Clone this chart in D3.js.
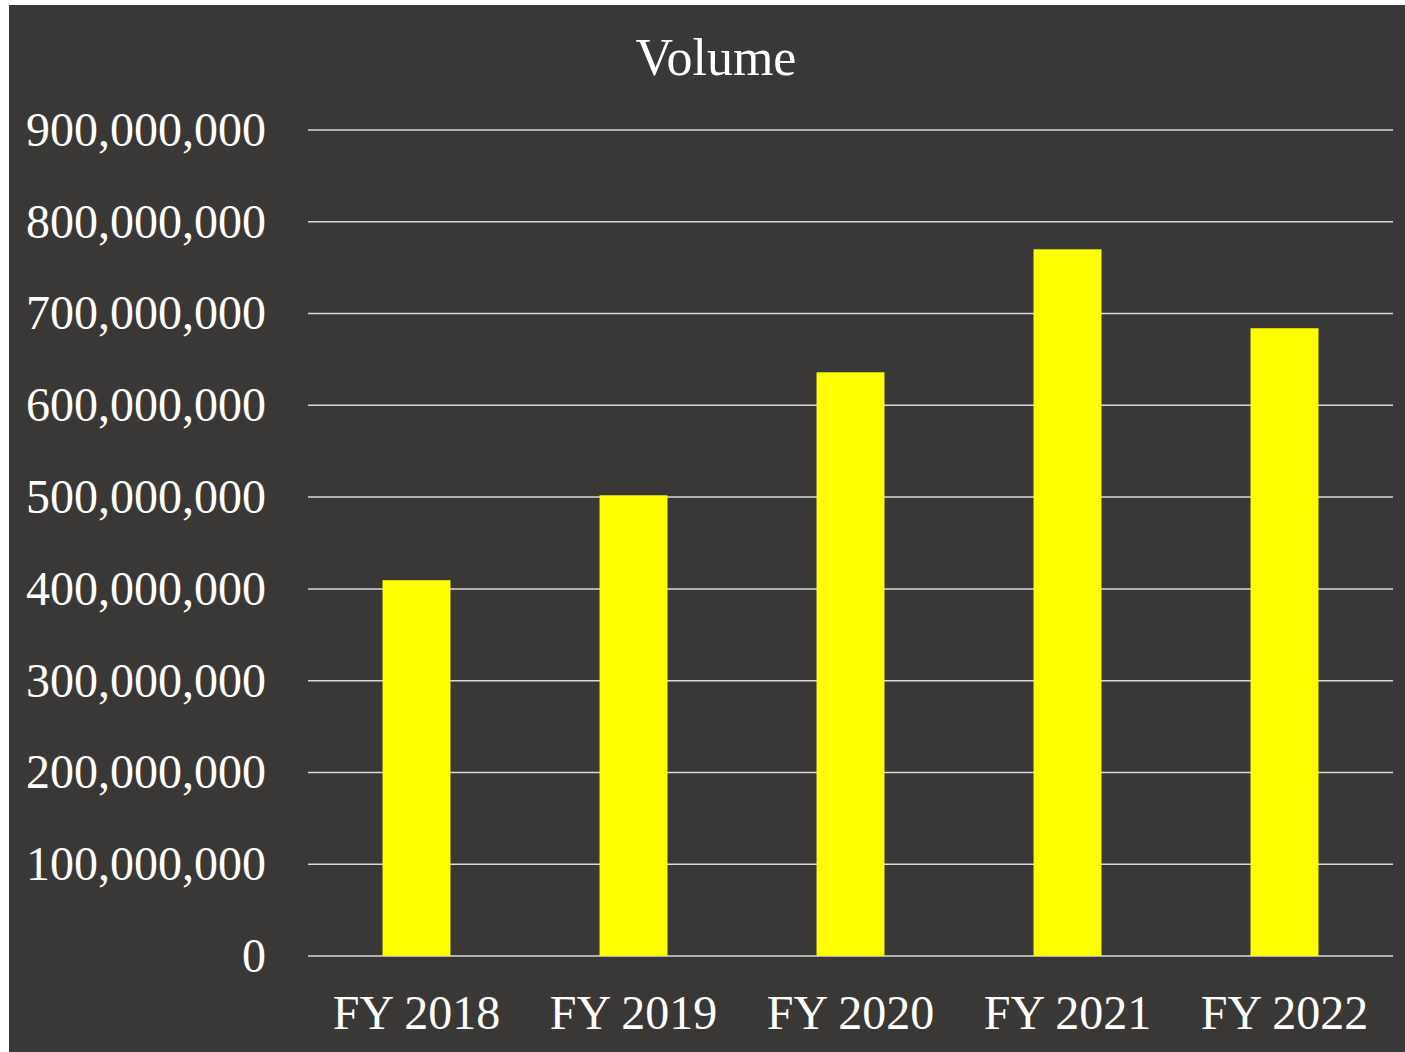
<!DOCTYPE html>
<html>
<head>
<meta charset="utf-8">
<script src="https://cdn.jsdelivr.net/npm/d3@7"></script>
<style>
  body { margin: 0; background: #fff; }
  text { font-family: "Liberation Serif", "Times New Roman", serif; fill: #fff; }
</style>
</head>
<body>
<div id="chart"></div>
<script>
const years = ['FY 2018', 'FY 2019', 'FY 2020', 'FY 2021', 'FY 2022'];
const volumes = [409500000, 502000000, 636000000, 770000000, 684000000];
const yTicks = [0, 100000000, 200000000, 300000000, 400000000, 500000000, 600000000, 700000000, 800000000, 900000000];

const width = 1405;
const height = 1052;
const bgColour = '#3a3836';
const barColour = '#ffff00';
const gridColour = '#d9d9d9';

const svg = d3.select('#chart').append('svg')
  .attr('width', width)
  .attr('height', height)
  .style('display', 'block');

svg.append('rect')
  .attr('x', 9)
  .attr('y', 5)
  .attr('width', width - 9)
  .attr('height', height - 5)
  .attr('fill', bgColour);

const plotLeft = 308, plotRight = 1393, plotTop = 130, plotBottom = 956;

const x = d3.scaleBand()
  .domain(years)
  .range([plotLeft, plotRight])
  .paddingInner(0.687)
  .paddingOuter(0.3435);

const y = d3.scaleLinear()
  .domain([0, 900000000])
  .range([plotBottom, plotTop]);

// gridlines
svg.append('g')
  .selectAll('line')
  .data(yTicks)
  .enter()
  .append('line')
  .attr('x1', plotLeft)
  .attr('x2', plotRight)
  .attr('y1', d => y(d))
  .attr('y2', d => y(d))
  .attr('stroke', gridColour)
  .attr('stroke-width', 1.5);

// y tick labels
const fmt = d3.format(',');
svg.append('g')
  .selectAll('text')
  .data(yTicks)
  .enter()
  .append('text')
  .attr('x', 266)
  .attr('y', d => y(d))
  .attr('dy', '0.33em')
  .attr('text-anchor', 'end')
  .attr('font-size', 48)
  .text(d => fmt(d));

// bars
svg.append('g')
  .selectAll('rect')
  .data(volumes)
  .enter()
  .append('rect')
  .attr('x', (d, i) => x(years[i]))
  .attr('y', d => y(d))
  .attr('width', x.bandwidth())
  .attr('height', d => y(0) - y(d))
  .attr('fill', barColour);

// x labels
svg.append('g')
  .selectAll('text')
  .data(years)
  .enter()
  .append('text')
  .attr('x', d => x(d) + x.bandwidth() / 2)
  .attr('y', 1029)
  .attr('text-anchor', 'middle')
  .attr('font-size', 48)
  .text(d => d);

// title
svg.append('text')
  .attr('x', 716)
  .attr('y', 75)
  .attr('text-anchor', 'middle')
  .attr('font-size', 52)
  .text('Volume');
</script>
</body>
</html>
